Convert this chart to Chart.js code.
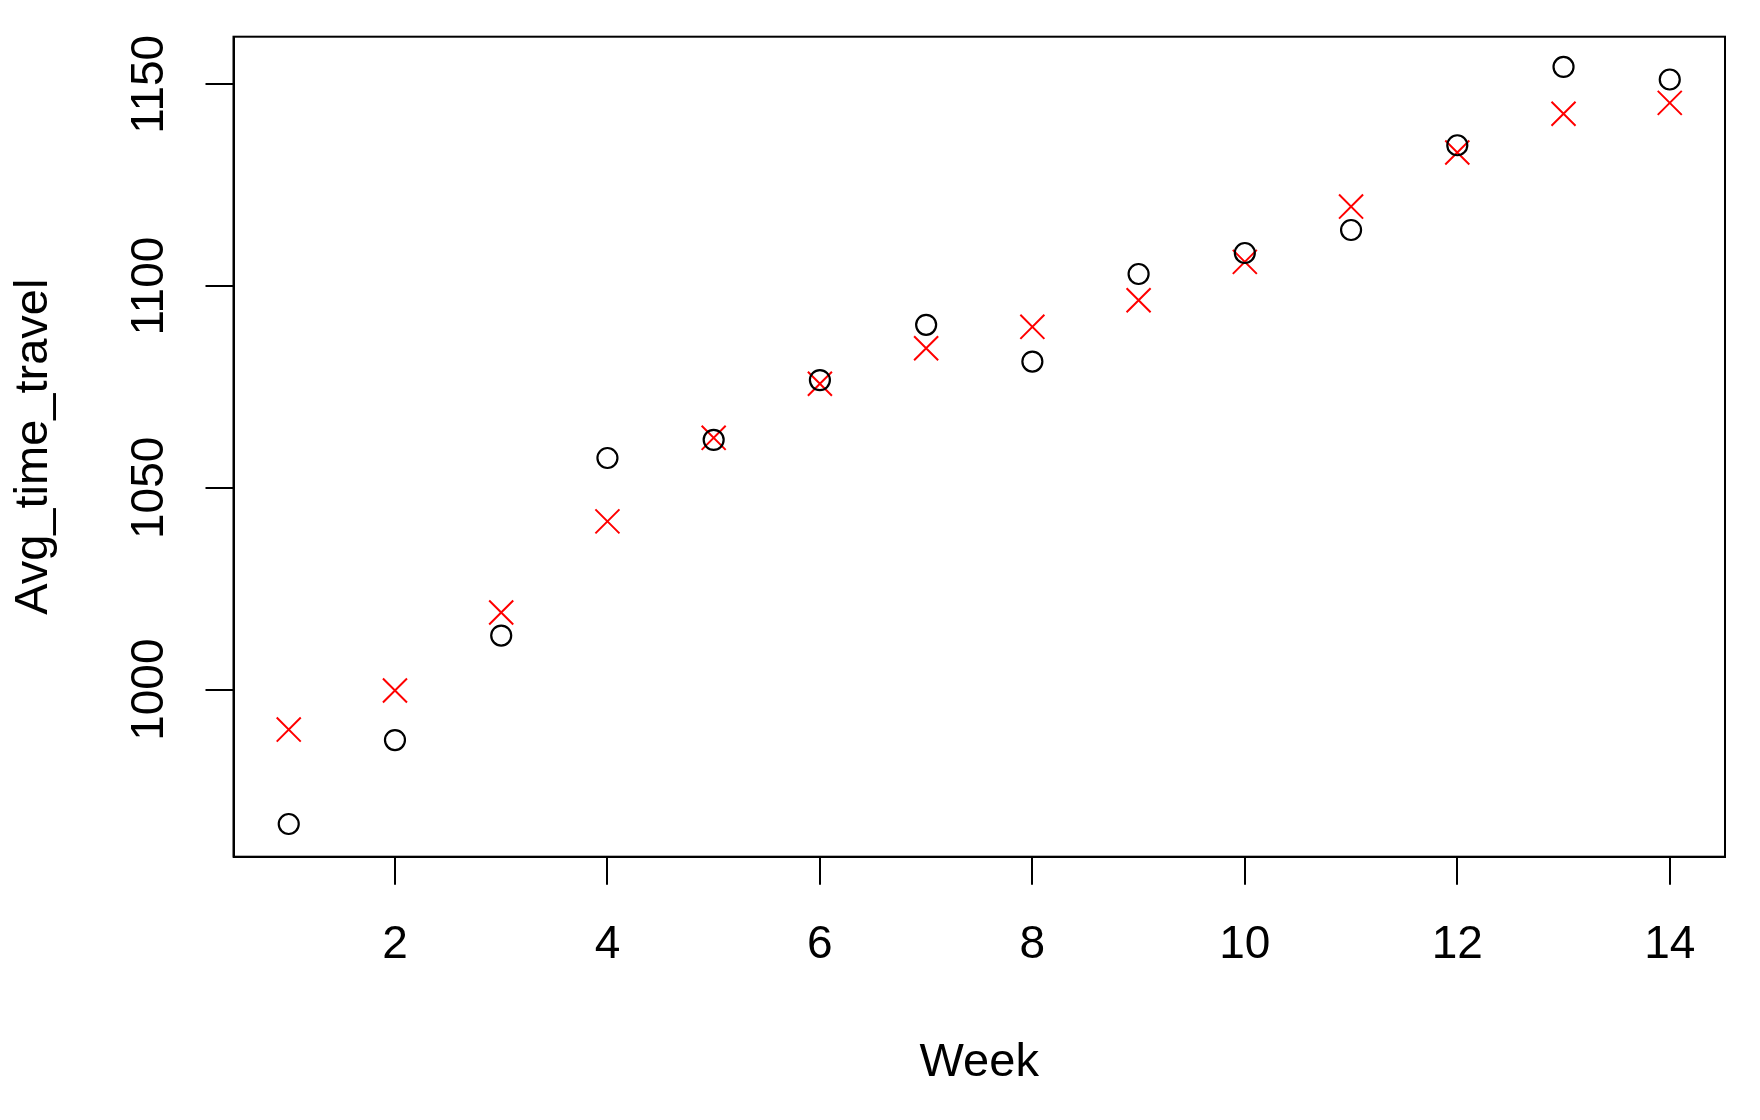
<!DOCTYPE html>
<html>
<head>
<meta charset="utf-8">
<title>Avg_time_travel by Week</title>
<script src="https://cdn.jsdelivr.net/npm/chart.js@4.4.1/dist/chart.umd.min.js"></script>
<style>
  html, body { margin: 0; padding: 0; background: #fff; }
  #wrap { width: 1760px; height: 1120px; }
</style>
</head>
<body>
<div id="wrap"><canvas id="plot" width="1760" height="1120"></canvas></div>
<script>
// values
const weeks = [1, 2, 3, 4, 5, 6, 7, 8, 9, 10, 11, 12, 13, 14];
const observed = [966.7, 987.5, 1013.4, 1057.4, 1061.9, 1076.7, 1090.4, 1081.3, 1103.0, 1108.2, 1113.9, 1134.9, 1154.3, 1151.2];
const fitted = [990.1, 999.8, 1019.1, 1041.7, 1062.4, 1075.8, 1084.6, 1089.9, 1096.5, 1106.0, 1119.7, 1133.1, 1142.7, 1145.4];
const xTicks = [2, 4, 6, 8, 10, 12, 14];
const yTicks = [1000, 1050, 1100, 1150];

const FONT = "'Liberation Sans', Arial, sans-serif";

function toPoints(ys) {
  return weeks.map((w, i) => ({ x: w, y: ys[i] }));
}

// R style box round the plot region
const boxPlugin = {
  id: "box",
  afterDraw(chart) {
    const { ctx, chartArea: a } = chart;
    ctx.save();
    ctx.strokeStyle = "#000";
    ctx.lineWidth = 2;
    ctx.strokeRect(a.left, a.top, a.right - a.left, a.bottom - a.top);
    ctx.restore();
  },
};

const axisGrid = {
  display: true,
  drawOnChartArea: false,
  drawTicks: true,
  tickLength: 28,
  tickColor: "#000",
  tickWidth: 2,
  color: "#000",
  lineWidth: 2,
};

new Chart(document.getElementById("plot").getContext("2d"), {
  type: "scatter",
  data: {
    datasets: [
      {
        label: "observed",
        data: toPoints(observed),
        pointStyle: "circle",
        pointRadius: 10,
        borderColor: "#000",
        backgroundColor: "rgba(0,0,0,0)",
        borderWidth: 2.2,
      },
      {
        label: "fitted",
        data: toPoints(fitted),
        pointStyle: "crossRot",
        pointRadius: 17,
        borderColor: "#ff0000",
        backgroundColor: "#ff0000",
        borderWidth: 2,
      },
    ],
  },
  options: {
    responsive: false,
    animation: false,
    events: [],
    layout: { padding: { top: 36.7, right: 35, left: 0, bottom: 0 } },
    plugins: {
      legend: { display: false },
      tooltip: { enabled: false },
    },
    scales: {
      x: {
        type: "linear",
        min: 0.48,
        max: 14.52,
        afterBuildTicks: (s) => { s.ticks = xTicks.map((v) => ({ value: v })); },
        afterFit: (s) => { s.height = 263.3; },
        grid: axisGrid,
        border: { display: true, color: "#000", width: 2 },
        ticks: {
          color: "#000",
          font: { family: FONT, size: 46 },
          padding: 33,
          maxRotation: 0,
          callback: (v) => String(v),
        },
        title: {
          display: true,
          text: "Week",
          color: "#000",
          font: { family: FONT, size: 47 },
          padding: { top: 0, bottom: 29 },
        },
      },
      y: {
        type: "linear",
        min: 958.6,
        max: 1161.8,
        afterBuildTicks: (s) => { s.ticks = yTicks.map((v) => ({ value: v })); },
        afterFit: (s) => { s.width = 233.5; },
        grid: axisGrid,
        border: { display: true, color: "#000", width: 2 },
        ticks: {
          color: "#000",
          font: { family: FONT, size: 46 },
          padding: 4,
          minRotation: 90,
          maxRotation: 90,
          crossAlign: "center",
          callback: (v) => String(v),
        },
        title: {
          display: true,
          text: "Avg_time_travel",
          color: "#000",
          font: { family: FONT, size: 47 },
          padding: { top: 6, bottom: 0 },
        },
      },
    },
  },
  plugins: [boxPlugin],
});
</script>
</body>
</html>
